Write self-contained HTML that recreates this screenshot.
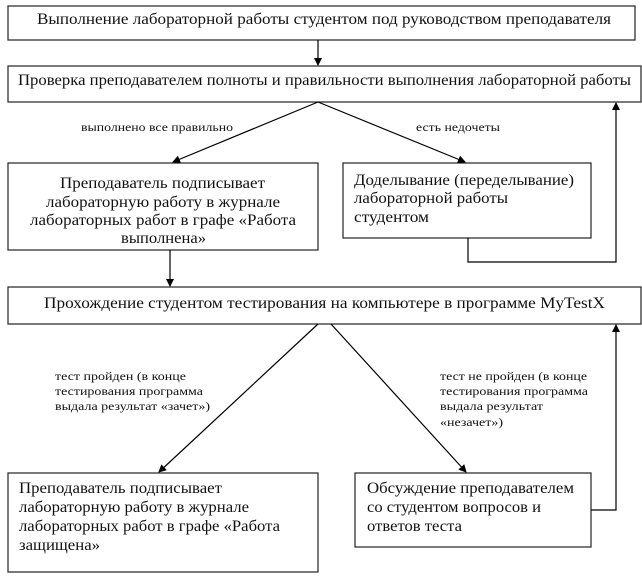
<!DOCTYPE html>
<html><head><meta charset="utf-8"><style>html,body{margin:0;padding:0;background:#fff}svg{display:block}text{font-family:"Liberation Serif","Times New Roman",serif}</style></head>
<body>
<svg width="642" height="577" viewBox="0 0 642 577" xmlns="http://www.w3.org/2000/svg" fill="#111">
<defs><marker id="a" markerWidth="8" markerHeight="8" refX="7" refY="4" orient="auto" markerUnits="userSpaceOnUse"><path d="M0,0 L8,4 L0,8 z" fill="#000"/></marker></defs>
<g fill="none" stroke="#222" stroke-width="1.2">
<rect x="8" y="6" width="627" height="34"/>
<rect x="8" y="66" width="633" height="36"/>
<rect x="8" y="163" width="310" height="87"/>
<rect x="343" y="163" width="248" height="75"/>
<rect x="8" y="287" width="633" height="37"/>
<rect x="8" y="473" width="310" height="99"/>
<rect x="355" y="473" width="236" height="74"/>
</g>
<g stroke="#000" stroke-width="1.2" fill="none" marker-end="url(#a)">
<line x1="318" y1="40" x2="318" y2="65"/>
<line x1="318" y1="102" x2="173" y2="162"/>
<line x1="318" y1="102" x2="465" y2="162"/>
<polyline points="468,238 468,262 616,262 616,103"/>
<line x1="170" y1="250" x2="170" y2="286"/>
<line x1="318" y1="324" x2="159" y2="472"/>
<line x1="331" y1="324" x2="466" y2="472"/>
<polyline points="591,510 616,510 616,325"/>
</g>
<g font-size="16">
<text x="37" y="24" textLength="574" lengthAdjust="spacingAndGlyphs">Выполнение лабораторной работы студентом под руководством преподавателя</text>
<text x="18" y="85" textLength="613" lengthAdjust="spacingAndGlyphs">Проверка преподавателем полноты и правильности выполнения лабораторной работы</text>
<text x="60" y="188" textLength="205" lengthAdjust="spacingAndGlyphs">Преподаватель подписывает</text>
<text x="46" y="207" textLength="234" lengthAdjust="spacingAndGlyphs">лабораторную работу в журнале</text>
<text x="30" y="225" textLength="266" lengthAdjust="spacingAndGlyphs">лабораторных работ в графе «Работа</text>
<text x="121" y="243" textLength="85" lengthAdjust="spacingAndGlyphs">выполнена»</text>
<text x="354" y="185" textLength="220" lengthAdjust="spacingAndGlyphs">Доделывание (переделывание)</text>
<text x="354" y="203" textLength="154" lengthAdjust="spacingAndGlyphs">лабораторной работы</text>
<text x="354" y="222" textLength="75" lengthAdjust="spacingAndGlyphs">студентом</text>
<text x="44" y="308" textLength="561" lengthAdjust="spacingAndGlyphs">Прохождение студентом тестирования на компьютере в программе  MyTestX</text>
<text x="19" y="493" textLength="203" lengthAdjust="spacingAndGlyphs">Преподаватель подписывает</text>
<text x="19" y="512" textLength="230" lengthAdjust="spacingAndGlyphs">лабораторную работу в журнале</text>
<text x="19" y="531" textLength="261" lengthAdjust="spacingAndGlyphs">лабораторных работ в графе «Работа</text>
<text x="19" y="550" textLength="81" lengthAdjust="spacingAndGlyphs">защищена»</text>
<text x="367" y="493" textLength="207" lengthAdjust="spacingAndGlyphs">Обсуждение преподавателем</text>
<text x="367" y="512" textLength="174" lengthAdjust="spacingAndGlyphs">со студентом вопросов и</text>
<text x="367" y="531" textLength="95" lengthAdjust="spacingAndGlyphs">ответов теста</text>
</g>
<g font-size="12">
<text x="81" y="131" textLength="152" lengthAdjust="spacingAndGlyphs">выполнено все правильно</text>
<text x="416" y="131" textLength="84" lengthAdjust="spacingAndGlyphs">есть недочеты</text>
<text x="55" y="380" textLength="131" lengthAdjust="spacingAndGlyphs">тест пройден (в конце</text>
<text x="55" y="395" textLength="148" lengthAdjust="spacingAndGlyphs">тестирования программа</text>
<text x="55" y="410" textLength="155" lengthAdjust="spacingAndGlyphs">выдала результат «зачет»)</text>
<text x="440" y="380" textLength="147" lengthAdjust="spacingAndGlyphs">тест не пройден (в конце</text>
<text x="440" y="395" textLength="148" lengthAdjust="spacingAndGlyphs">тестирования программа</text>
<text x="440" y="410" textLength="103" lengthAdjust="spacingAndGlyphs">выдала результат</text>
<text x="440" y="426" textLength="63" lengthAdjust="spacingAndGlyphs">«незачет»)</text>
</g>
</svg>
</body></html>
